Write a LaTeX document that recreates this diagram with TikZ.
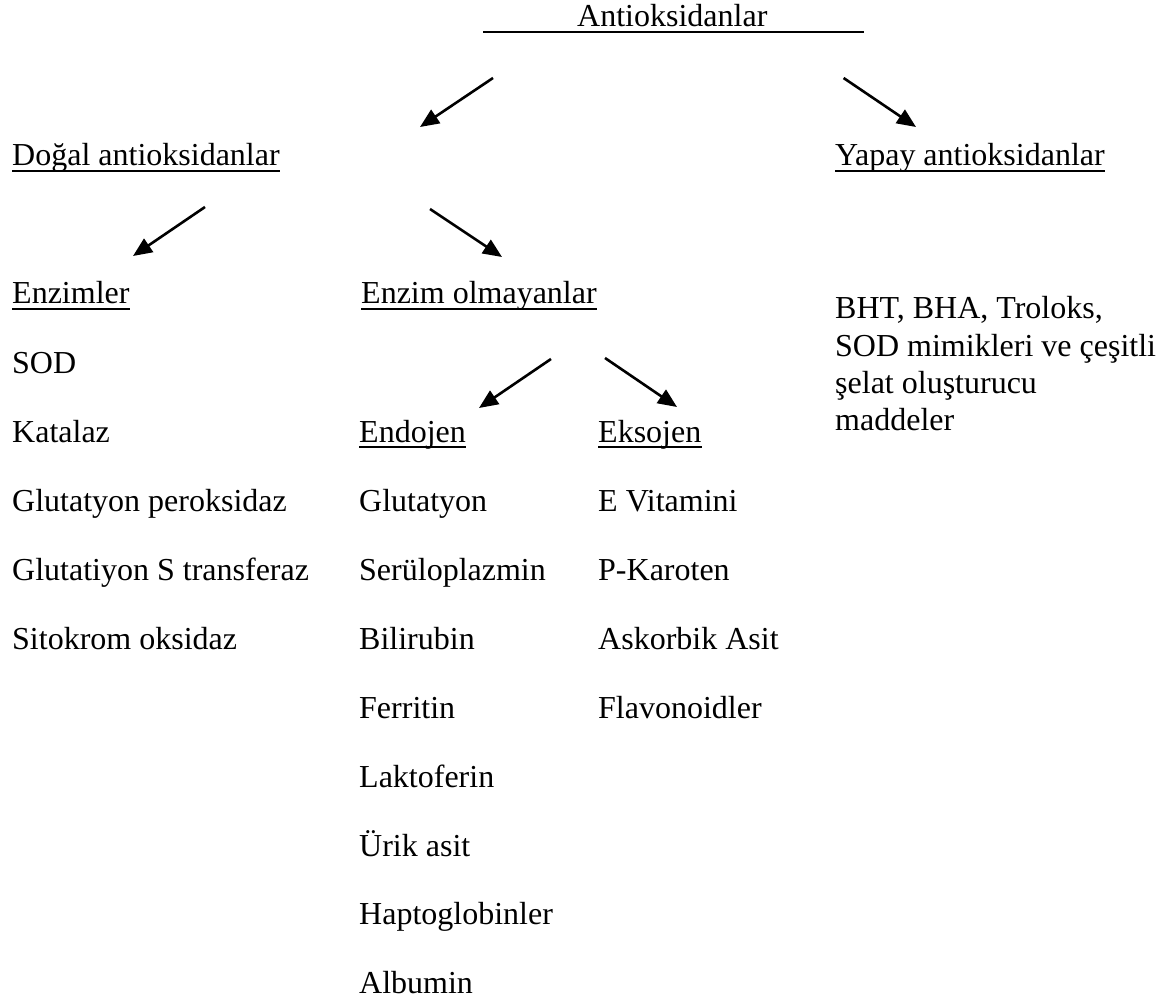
\documentclass[tikz,border=0pt]{standalone}
\usepackage{fontspec}
\setmainfont{Liberation Serif}
\usetikzlibrary{arrows.meta}
\begin{document}
\begin{tikzpicture}[x=1pt,y=-1pt,
  txt/.style={anchor=base west,inner sep=0pt,font=\fontsize{32pt}{38pt}\selectfont},
  ul/.style={line width=2pt},
  arr/.style={line width=2.6pt,-{Triangle[length=19pt,width=16pt]}}]
\useasboundingbox (0,0) rectangle (1168,1003);
% headings
\node[txt] (anti) at (577,27) {Antioksidanlar};
\node[txt] (dogal) at (12,166) {Doğal antioksidanlar};
\node[txt] (yapay) at (835,166) {Yapay antioksidanlar};
\node[txt] (enz) at (12,304) {Enzimler};
\node[txt] (enzol) at (361,304) {Enzim olmayanlar};
\node[txt] (endo) at (359,442) {Endojen};
\node[txt] (ekso) at (598,442) {Eksojen};
% underlines
\draw[ul] ([shift={(-94,5)}]anti.base west) -- ([shift={(96,5)}]anti.base east);
\foreach \n in {dogal,yapay,enz,enzol,endo,ekso}
  \draw[ul] ([yshift=-5pt]\n.base west) -- ([yshift=-5pt]\n.base east);
% left list
\node[txt] (l1) at (12,373) {SOD};
\node[txt] (l2) at (12,442) {Katalaz};
\node[txt] (l3) at (12,511) {Glutatyon peroksidaz};
\node[txt] (l4) at (12,580) {Glutatiyon S transferaz};
\node[txt] (l5) at (12,649) {Sitokrom oksidaz};
% endojen list
\node[txt] (e1) at (359,511) {Glutatyon};
\node[txt] (e2) at (359,580) {Serüloplazmin};
\node[txt] (e3) at (359,649) {Bilirubin};
\node[txt] (e4) at (359,718) {Ferritin};
\node[txt] (e5) at (359,787) {Laktoferin};
\node[txt] (e6) at (359,856) {Ürik asit};
\node[txt] (e7) at (359,924) {Haptoglobinler};
\node[txt] (e8) at (359,993) {Albumin};
% eksojen list
\node[txt] (x1) at (598,511) {E Vitamini};
\node[txt] (x2) at (598,580) {P-Karoten};
\node[txt] (x3) at (598,649) {Askorbik Asit};
\node[txt] (x4) at (598,718) {Flavonoidler};
% yapay text
\node[txt] (y1) at (835,319) {BHT, BHA, Troloks,};
\node[txt] (y2) at (835,356) {SOD mimikleri ve çeşitli};
\node[txt] (y3) at (835,393) {şelat oluşturucu};
\node[txt] (y4) at (835,430) {maddeler};
% arrows
\draw[arr] ([shift={(-84,51)}]anti.base west) -- ([shift={(408,-39)}]dogal.base west);
\draw[arr] ([shift={(76,51)}]anti.base east) -- ([shift={(81,-39)}]yapay.base west);
\draw[arr] ([shift={(193,41)}]dogal.base west) -- ([shift={(121,-48)}]enz.base west);
\draw[arr] ([shift={(418,43)}]dogal.base west) -- ([shift={(141,-47)}]enzol.base west);
\draw[arr] ([shift={(190,55)}]enzol.base west) -- ([shift={(120,-34)}]endo.base west);
\draw[arr] ([shift={(244,54)}]enzol.base west) -- ([shift={(79,-35)}]ekso.base west);
\end{tikzpicture}
\end{document}
